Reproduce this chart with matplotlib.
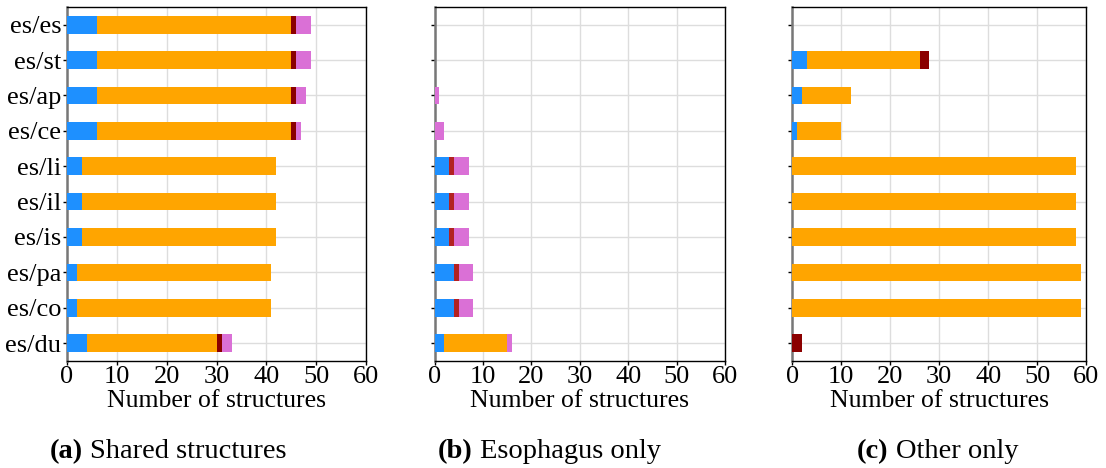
import matplotlib.pyplot as plt

plt.rcParams['font.family'] = ['Liberation Serif', 'DejaVu Serif']

# Categories (top to bottom)
pairs = ["es/es", "es/st", "es/ap", "es/ce", "es/li",
         "es/il", "es/is", "es/pa", "es/co", "es/du"]

# (a) Shared structures
shared_blue = [6, 6, 6, 6, 3, 3, 3, 2, 2, 4]
shared_orange = [39, 39, 39, 39, 39, 39, 39, 39, 39, 26]
shared_darkred = [1, 1, 1, 1, 0, 0, 0, 0, 0, 1]
shared_red = [0, 0, 0, 0, 0, 0, 0, 0, 0, 0]
shared_pink = [3, 3, 2, 1, 0, 0, 0, 0, 0, 2]

# (b) Esophagus only
eso_blue = [0, 0, 0, 0, 3, 3, 3, 4, 4, 2]
eso_orange = [0, 0, 0, 0, 0, 0, 0, 0, 0, 13]
eso_darkred = [0, 0, 0, 0, 0, 0, 0, 0, 0, 0]
eso_red = [0, 0, 0, 0, 1, 1, 1, 1, 1, 0]
eso_pink = [0, 0, 1, 2, 3, 3, 3, 3, 3, 1]

# (c) Other only
oth_blue = [0, 3, 2, 1, 0, 0, 0, 0, 0, 0]
oth_orange = [0, 23, 10, 9, 58, 58, 58, 59, 59, 0]
oth_darkred = [0, 2, 0, 0, 0, 0, 0, 0, 0, 2]
oth_red = [0, 0, 0, 0, 0, 0, 0, 0, 0, 0]
oth_pink = [0, 0, 0, 0, 0, 0, 0, 0, 0, 0]

colors = ["#1E90FF", "#FFA500", "#8B0000", "#B22222", "#DA70D6"]

panels = [
    ("(a)", "Shared structures",
     [shared_blue, shared_orange, shared_darkred, shared_red, shared_pink]),
    ("(b)", "Esophagus only",
     [eso_blue, eso_orange, eso_darkred, eso_red, eso_pink]),
    ("(c)", "Other only",
     [oth_blue, oth_orange, oth_darkred, oth_red, oth_pink]),
]

fig = plt.figure(figsize=(11.06, 4.68), dpi=100)

# axes rectangles in figure fractions
rects = [
    (0.0606, 0.229, 0.2705, 0.756),
    (0.3930, 0.229, 0.2625, 0.756),
    (0.7164, 0.229, 0.2656, 0.756),
]
caption_x = [0.045, 0.396, 0.775]

ypos = list(range(len(pairs)))

for i, (tag, caption, series) in enumerate(panels):
    ax = fig.add_axes(rects[i])
    left = [0] * len(pairs)
    for vals, c in zip(series, colors):
        ax.barh(ypos, vals, left=left, height=0.5, color=c, zorder=3)
        left = [a + b for a, b in zip(left, vals)]

    ax.set_xlim(0, 60)
    ax.set_ylim(len(pairs) - 0.5, -0.5)
    ax.set_xticks(range(0, 61, 10))
    ax.set_yticks(ypos)
    if i == 0:
        ax.set_yticklabels(pairs)
    else:
        ax.set_yticklabels([])
    ax.tick_params(axis='both', labelsize=19, length=3, width=1, pad=1)
    ax.set_xlabel("Number of structures", fontsize=18.5, labelpad=1)
    ax.grid(True, color="#dddddd", linewidth=1.0, zorder=0)
    ax.set_axisbelow(True)
    for side in ["top", "right", "bottom"]:
        ax.spines[side].set_color("black")
        ax.spines[side].set_linewidth(1.0)
    ax.spines["left"].set_color("#777777")
    ax.spines["left"].set_linewidth(1.8)

    t = fig.text(caption_x[i], 0.022, tag, fontsize=20.5, fontweight="bold",
                 ha="left", va="baseline")
    fig.canvas.draw()
    bb = t.get_window_extent()
    fig.text((bb.x1 + 7) / fig.bbox.width, 0.022, caption, fontsize=20.5,
             ha="left", va="baseline")

plt.savefig("out.png", dpi=100)
